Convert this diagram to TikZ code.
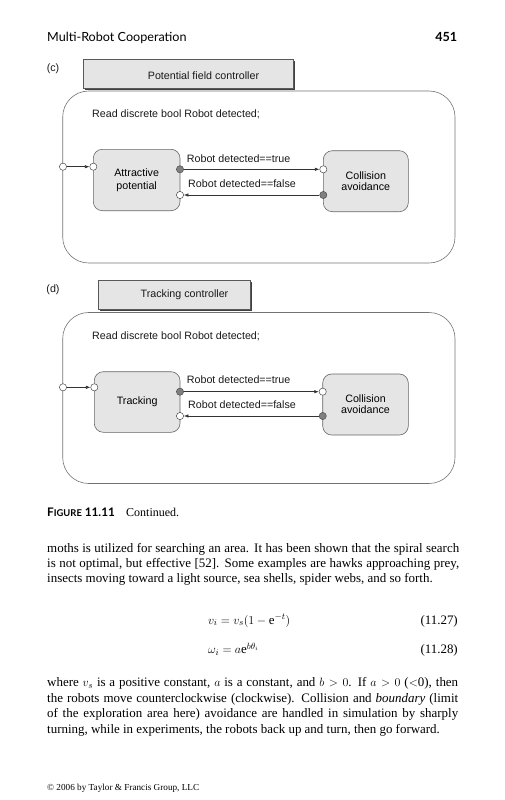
\documentclass[tikz,border=0pt]{standalone}
\usepackage{fontspec}
\setmainfont{Liberation Serif}
\setsansfont{Liberation Sans}
\newfontfamily\hdfont{Lato}
\usetikzlibrary{arrows.meta,shadows}
\tikzset{
  fig/.style={font=\sffamily\fontsize{10.7}{12.6}\selectfont, inner sep=0pt, text=black!90},
  body/.style={font=\fontsize{12.95}{15.6}\selectfont, inner sep=0pt, anchor=base west},
  ctrlbox/.style={draw=black!65, fill=black!10, line width=0.6pt, inner sep=0pt,
    drop shadow={shadow xshift=1.6pt, shadow yshift=-1.6pt, fill=black!75, opacity=1}},
  panelbox/.style={draw=black!55, line width=0.6pt, rounded corners=26pt, inner sep=0pt},
  statebox/.style={draw=black!60, fill=black!10, rounded corners=9pt, line width=0.6pt,
    inner sep=0pt, align=center, font=\sffamily\fontsize{10.7}{12.6}\selectfont},
  port/.style={circle, draw=black!70, fill=white, minimum size=7.2pt, inner sep=0pt, line width=0.5pt},
  portd/.style={port, fill=black!50},
  arr/.style={-{Latex[length=4.5pt,width=3.4pt]}, draw=black!80, line width=0.6pt},
}
\begin{document}
\begin{tikzpicture}[x=1pt,y=-1pt]
\useasboundingbox (0,0) rectangle (504,800);
% header
\node[inner sep=0pt, anchor=base west, font=\hdfont\fontsize{12.6}{14}\selectfont] (hdr) at (47,42) {Multi-Robot Cooperation};
\node[inner sep=0pt, anchor=base east, font=\hdfont\bfseries\fontsize{12.6}{14}\selectfont] (pg) at (457.5,42) {451};

% ---------- panel (c)
\node[fig] (labc) at (53,69) {(c)};
\node[panelbox, minimum width=392.3pt, minimum height=172pt] (panC) at (258.85,177) {};
\node[ctrlbox, minimum width=209.5pt, minimum height=28.5pt] (ctrlC) at (188.25,73.75) {};
\node[fig] (ctrlCt) at (203.5,76) {Potential field controller};
\node[fig, anchor=west] (readC) at (92,114.5) {Read discrete bool Robot detected;};
\node[statebox, minimum width=86.7pt, minimum height=61.4pt] (attr) at (136.65,180) {Attractive\\potential};
\node[statebox, minimum width=85pt, minimum height=61pt] (collC) at (365.8,181.2) {\raisebox{-2pt}{\shortstack{Collision\\avoidance}}};
\node[port] (inC) at (63,166.7) {};
\node[port] (enC) at (93.3,166.7) {};
\node[portd] (otC) at (180,169.3) {};
\node[port] (ifC) at (180,195) {};
\node[port] (itC) at (323.3,169.3) {};
\node[portd] (ofC) at (323.3,195) {};
\draw[arr] (inC) -- (enC);
\draw[arr] (otC) -- (itC);
\draw[arr] (ofC) -- (ifC);
\node[fig, anchor=west] (trueC) at (186.7,158.5) {Robot detected==true};
\node[fig, anchor=west] (falseC) at (188,184) {Robot detected==false};

% ---------- panel (d)
\begin{scope}[yshift=-221pt]
\node[fig] (labd) at (53,68.5) {(d)};
\node[panelbox, minimum width=392.3pt, minimum height=171pt] (panD) at (258.85,177) {};
\node[ctrlbox, minimum width=151.7pt, minimum height=28.5pt] (ctrlD) at (174.15,73.75) {};
\node[fig] (ctrlDt) at (184.5,74) {Tracking controller};
\node[fig, anchor=west] (readD) at (92,115.5) {Read discrete bool Robot detected;};
\node[statebox, minimum width=85.7pt, minimum height=60.6pt] (trk) at (137.15,181) {Tracking};
\node[statebox, minimum width=85.6pt, minimum height=61pt] (collD) at (365.5,183.5) {\raisebox{-2pt}{\shortstack{Collision\\avoidance}}};
\node[port] (inD) at (63,166.3) {};
\node[port] (enD) at (94.3,166.3) {};
\node[portd] (otD) at (180,170.7) {};
\node[port] (ifD) at (180,195) {};
\node[port] (itD) at (322.7,170.7) {};
\node[portd] (ofD) at (322.7,195) {};
\draw[arr] (inD) -- (enD);
\draw[arr] (otD) -- (itD);
\draw[arr] (ofD) -- (ifD);
\node[fig, anchor=west] (trueD) at (186.7,158.3) {Robot detected==true};
\node[fig, anchor=west] (falseD) at (188,184) {Robot detected==false};
\end{scope}

% ---------- caption
\node[inner sep=0pt, anchor=base west, font=\hdfont\bfseries\fontsize{11.8}{13}\selectfont] (figlab) at (47,516)
  {F{\fontsize{9.4}{11}\selectfont IGURE} 11.11};
\node[body, font=\fontsize{12}{14}\selectfont] (cont) at (126,516) {Continued.};

% ---------- paragraph 1
\node[body] (p1a) at (47,552) {\makebox[412pt][s]{moths is utilized for searching an area. It has been shown that the spiral search}};
\node[body] (p1b) at (47,567.3) {\makebox[412pt][s]{is not optimal, but effective [52]. Some examples are hawks approaching prey,}};
\node[body] (p1c) at (47,582.6) {insects moving toward a light source, sea shells, spider webs, and so forth.};

% ---------- equations
\node[body] (eq1) at (208,624) {$v_i = v_s(1-\mathrm{e}^{-t})$};
\node[body, anchor=base east] (eq1n) at (458,624) {(11.27)};
\node[body] (eq2) at (208,653.5) {$\omega_i = a\mathrm{e}^{b\theta_i}$};
\node[body, anchor=base east] (eq2n) at (458,653.5) {(11.28)};

% ---------- paragraph 2
\node[body] (p2a) at (47,686.5) {\makebox[411pt][s]{where $v_s$ is a positive constant, $a$ is a constant, and $b>0$. If $a>0$ ($<$0), then}};
\node[body] (p2b) at (47,702) {\makebox[411pt][s]{the robots move counterclockwise (clockwise). Collision and \emph{boundary} (limit}};
\node[body] (p2c) at (47,717.5) {\makebox[411pt][s]{of the exploration area here) avoidance are handled in simulation by sharply}};
\node[body] (p2d) at (47,733) {turning, while in experiments, the robots back up and turn, then go forward.};

% ---------- footer
\node[body, font=\fontsize{9.2}{10}\selectfont] (copy) at (47,790) {\textcopyright{} 2006 by Taylor \& Francis Group, LLC};
\end{tikzpicture}
\end{document}
